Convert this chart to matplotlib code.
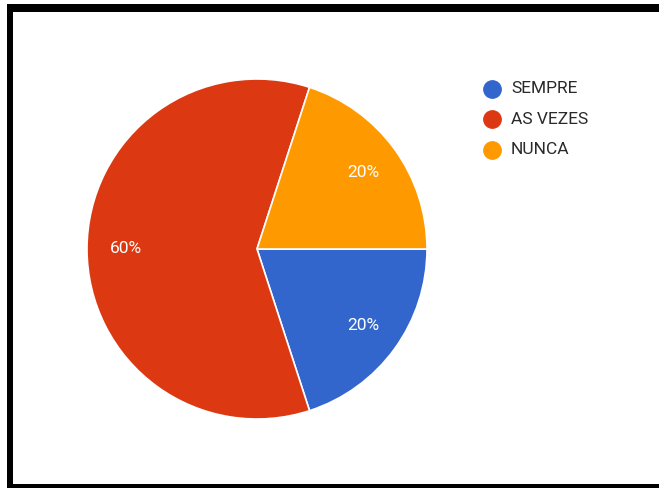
import matplotlib
matplotlib.use("Agg")
import matplotlib.pyplot as plt
from matplotlib.lines import Line2D
from matplotlib.patches import Rectangle

categories = ["SEMPRE", "AS VEZES", "NUNCA"]
values = [20, 60, 20]
colors = ["#3366CC", "#DC3912", "#FF9900"]

W, H = 659, 488
fig = plt.figure(figsize=(W / 100, H / 100), dpi=100)
fig.patch.set_facecolor("white")

plt.rcParams['font.family'] = ['Roboto', 'DejaVu Sans']

def fx(px):
    return px / W

def fy(py):
    return 1 - py / H

# pie axes: center (257,249), radius 170
cx, cy, r = 257, 249, 170
ax = fig.add_axes([fx(cx - r), fy(cy + r), 2 * r / W, 2 * r / H])
wedges, texts, autotexts = ax.pie(
    values, colors=colors, startangle=0, counterclock=False,
    autopct=lambda p: f"{p:.0f}%", pctdistance=0.77,
    wedgeprops=dict(edgecolor="white", linewidth=1.2),
    textprops=dict(color="white", fontsize=12.5),
)
ax.set_xlim(-1, 1)
ax.set_ylim(-1, 1)
ax.set_aspect("auto")
ax.axis("off")

# legend
leg_x, leg_y0, leg_dy = 492, 88.5, 30.5
for i, (cat, col) in enumerate(zip(categories, colors)):
    y = leg_y0 + i * leg_dy
    fig.add_artist(Line2D([fx(leg_x)], [fy(y)], marker="o", markersize=12.5,
                          color=col, markeredgecolor=col, transform=fig.transFigure))
    fig.text(fx(leg_x + 19), fy(y), cat, fontsize=12.5, color="#2a2a2a",
             va="center", ha="left")

# black frame (left, top, bottom)
fig.add_artist(Rectangle((fx(7), fy(12)), fx(652), 8 / H, transform=fig.transFigure,
                         color="black", lw=0))
fig.add_artist(Rectangle((fx(7), fy(488)), 6 / W, 484 / H, transform=fig.transFigure,
                         color="black", lw=0))
fig.add_artist(Rectangle((fx(7), fy(488)), fx(652), 4.5 / H, transform=fig.transFigure,
                         color="black", lw=0))

fig.savefig("out.png", dpi=100, facecolor="white")
